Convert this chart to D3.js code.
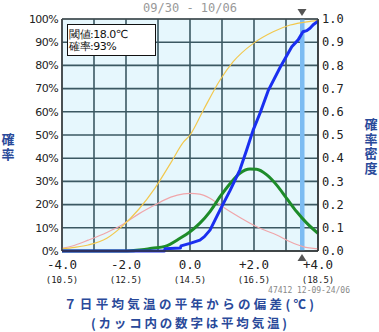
<!DOCTYPE html>
<html><head><meta charset="utf-8">
<script src="https://cdn.jsdelivr.net/npm/d3@7"></script>
<style>
html,body{margin:0;padding:0;background:#fff;}
svg{display:block;}
</style></head>
<body>
<script>
// ---- data ----
const periodLabel = "09/30 - 10/06";
const xTicks = [-4, -2, 0, 2, 4];
const xTickLabels = ["-4.0", "-2.0", "0.0", "+2.0", "+4.0"];
const xTickSub = ["(10.5)", "(12.5)", "(14.5)", "(16.5)", "(18.5)"];
const leftTicks = [0,10,20,30,40,50,60,70,80,90,100];
const rightTicks = [0,0.1,0.2,0.3,0.4,0.5,0.6,0.7,0.8,0.9,1.0];
const threshold = 3.5;
const legendLines = ["閾値:18.0℃", "確率:93%"];
const stamp = "47412 12-09-24/06";
const xTitle1 = "７日平均気温の平年からの偏差(℃)";
const xTitle2 = "(カッコ内の数字は平均気温)";
const leftTitle = "確率";
const rightTitle = "確率密度";

// climatological cumulative probability (%), left axis
const climCdfX = [-4, -3.6, -3.18, -2.6, -2.13, -1.6, -1.1, -0.6, -0.2, 0, 0.42, 0.94, 1.35, 1.98, 2.6, 3.13, 3.65, 4];
const climCdfY = [1, 1.6, 2.6, 5.5, 10.5, 18, 27, 38, 47, 50, 60.8, 73.7, 81.6, 89.5, 94.5, 97.4, 98.8, 99.3];
// forecast cumulative probability (%), left axis
const fcCdfX = [-4, -0.8, -0.78, -0.3, -0.28, 0, 0.31, 0.45, 0.625, 0.94, 1.25, 1.56, 1.77, 1.97, 2.19, 2.44, 2.81, 3.18, 3.38, 3.53, 3.65, 3.75, 3.85, 4];
const fcCdfY = [0, 0, 1, 1.3, 2.2, 3.3, 4.7, 6.2, 9, 17.7, 26, 35, 43.5, 52, 59.5, 69, 79, 88, 91, 94.5, 95, 96, 97.5, 99];
// climatological density, right axis
const climPdfX = [-4, -3.6, -3.18, -2.6, -2.13, -1.6, -1.1, -0.6, -0.2, 0, 0.3, 0.625, 0.94, 1.25, 1.875, 2.19, 2.71, 3.13, 3.53, 4];
const climPdfY = [0.012, 0.025, 0.047, 0.08, 0.112, 0.16, 0.198, 0.232, 0.246, 0.248, 0.245, 0.227, 0.198, 0.17, 0.12, 0.098, 0.069, 0.04, 0.019, 0.009];
// forecast density, right axis
const fcPdfX = [-4, -1.97, -1.5, -1.19, -0.78, -0.31, 0, 0.31, 0.625, 0.94, 1.25, 1.56, 1.875, 2.08, 2.4, 2.71, 3.02, 3.33, 3.65, 4];
const fcPdfY = [0, 0, 0.005, 0.012, 0.02, 0.055, 0.083, 0.12, 0.17, 0.234, 0.29, 0.335, 0.353, 0.352, 0.328, 0.284, 0.227, 0.17, 0.12, 0.076];

// ---- layout ----
const W = 379, H = 332;
const L = 62, R = 318, T = 19, B = 251;
const svg = d3.select("body").append("svg").attr("width", W).attr("height", H);
const x = d3.scaleLinear().domain([-4, 4]).range([L, R]);
const yL = d3.scaleLinear().domain([0, 100]).range([B, T]);
const yR = d3.scaleLinear().domain([0, 1]).range([B, T]);

svg.append("rect").attr("x", L).attr("y", T).attr("width", R - L).attr("height", B - T).attr("fill", "#e6f7fd");

// grid
const gridColor = "#3b5862";
svg.append("g").selectAll("line").data(d3.range(-4, 4.01, 1)).join("line")
  .attr("x1", d => x(d)).attr("x2", d => x(d)).attr("y1", T).attr("y2", B)
  .attr("stroke", gridColor).attr("stroke-width", 1.6);
svg.append("g").selectAll("line").data(leftTicks).join("line")
  .attr("x1", L).attr("x2", R).attr("y1", d => yL(d)).attr("y2", d => yL(d))
  .attr("stroke", gridColor).attr("stroke-width", 1.6);

// threshold band
svg.append("rect").attr("x", x(threshold) - 2).attr("y", T).attr("width", 4.5).attr("height", B - T).attr("fill", "#7cbcf2");

// curves
const lineL = (xs, ys) => d3.line().x((d, i) => x(xs[i])).y((d, i) => yL(ys[i]))(xs);
const lineR = (xs, ys) => d3.line().curve(d3.curveMonotoneX).x((d, i) => x(xs[i])).y((d, i) => yR(ys[i]))(xs);
const lineLs = (xs, ys) => d3.line().curve(d3.curveMonotoneX).x((d, i) => x(xs[i])).y((d, i) => yL(ys[i]))(xs);

svg.append("path").attr("d", lineR(climPdfX, climPdfY)).attr("fill", "none").attr("stroke", "#f0a6aa").attr("stroke-width", 1.2);
svg.append("path").attr("d", lineLs(climCdfX, climCdfY)).attr("fill", "none").attr("stroke", "#f2c84e").attr("stroke-width", 1.2);
svg.append("path").attr("d", lineR(fcPdfX, fcPdfY)).attr("fill", "none").attr("stroke", "#1e8c2a").attr("stroke-width", 3);
svg.append("path").attr("d", lineL(fcCdfX, fcCdfY)).attr("fill", "none").attr("stroke", "#1a2ff0").attr("stroke-width", 3).attr("stroke-linejoin", "round");

// border
svg.append("line").attr("x1", L).attr("x2", L).attr("y1", T).attr("y2", B).attr("stroke", "#444").attr("stroke-width", 1.5);
svg.append("line").attr("x1", R).attr("x2", R).attr("y1", T).attr("y2", B).attr("stroke", "#333").attr("stroke-width", 1.5);
svg.append("line").attr("x1", L).attr("x2", R).attr("y1", B).attr("y2", B).attr("stroke", "#333").attr("stroke-width", 1.5);
svg.append("line").attr("x1", L).attr("x2", R).attr("y1", T).attr("y2", T).attr("stroke", "#444").attr("stroke-width", 1);

// axes labels
const tickFont = "'DejaVu Sans Mono', monospace";
svg.append("g").selectAll("text").data(leftTicks).join("text")
  .attr("x", L - 4).attr("y", d => yL(d)).attr("dy", "0.35em").attr("text-anchor", "end")
  .attr("font-family", "'DejaVu Sans', Verdana, sans-serif").attr("font-size", 11).attr("letter-spacing", -0.6).attr("fill", "#222")
  .text(d => d + "%");
svg.append("g").selectAll("text").data(rightTicks).join("text")
  .attr("x", R + 4).attr("y", d => yR(d)).attr("dy", "0.35em").attr("text-anchor", "start")
  .attr("font-family", tickFont).attr("font-size", 12).attr("fill", "#222")
  .text(d => d.toFixed(1));
svg.append("g").selectAll("text").data(xTicks).join("text")
  .attr("x", d => x(d)).attr("y", 269).attr("text-anchor", "middle")
  .attr("font-family", tickFont).attr("font-size", 12.5).attr("fill", "#222")
  .text((d, i) => xTickLabels[i]);
svg.append("g").selectAll("text").data(xTicks).join("text")
  .attr("x", d => x(d)).attr("y", 283).attr("text-anchor", "middle")
  .attr("font-family", tickFont).attr("font-size", 9).attr("fill", "#222")
  .text((d, i) => xTickSub[i]);

// title
svg.append("text").attr("x", 190).attr("y", 12).attr("text-anchor", "middle")
  .attr("font-family", tickFont).attr("font-size", 12).attr("fill", "#999").text(periodLabel);

// stamp
svg.append("text").attr("x", 350).attr("y", 293).attr("text-anchor", "end")
  .attr("font-family", tickFont).attr("font-size", 8).attr("fill", "#888").text(stamp);

// side titles (vertical)
const blue = "#2a4a9a";
const cjk = "'Noto Sans CJK JP', sans-serif";
svg.append("text").attr("x", 8).attr("y", 133)
  .style("writing-mode", "vertical-rl").attr("letter-spacing", 2)
  .attr("font-family", cjk).attr("font-weight", "bold").attr("font-size", 13).attr("fill", blue).text(leftTitle);
svg.append("text").attr("x", 371).attr("y", 118)
  .style("writing-mode", "vertical-rl").attr("letter-spacing", 1.5)
  .attr("font-family", cjk).attr("font-weight", "bold").attr("font-size", 13).attr("fill", blue).text(rightTitle);

svg.append("text").attr("x", 189).attr("y", 308.5).attr("text-anchor", "middle")
  .attr("textLength", 250).attr("lengthAdjust", "spacing")
  .attr("font-family", cjk).attr("font-weight", "bold").attr("font-size", 12.5).attr("fill", blue).text(xTitle1);
svg.append("text").attr("x", 189).attr("y", 327.5).attr("text-anchor", "middle")
  .attr("textLength", 196).attr("lengthAdjust", "spacing")
  .attr("font-family", cjk).attr("font-weight", "bold").attr("font-size", 12.5).attr("fill", blue).text(xTitle2);

// legend box
svg.append("rect").attr("x", 67.5).attr("y", 24.5).attr("width", 88).attr("height", 31).attr("fill", "#fff").attr("stroke", "#111").attr("stroke-width", 1);
svg.append("g").selectAll("text").data(legendLines).join("text")
  .attr("x", 69).attr("y", (d, i) => 38 + i * 12)
  .attr("font-family", "'DejaVu Sans', sans-serif").attr("font-size", 11).attr("letter-spacing", -0.5).attr("fill", "#111").text(d => d);

// triangles
const tx = x(threshold);
svg.append("path").attr("d", `M${tx - 4.5},9 L${tx + 4.5},9 L${tx},16 Z`).attr("fill", "#555");
svg.append("path").attr("d", `M${tx - 4.5},261 L${tx + 4.5},261 L${tx},254 Z`).attr("fill", "#555");
</script>
</body></html>
